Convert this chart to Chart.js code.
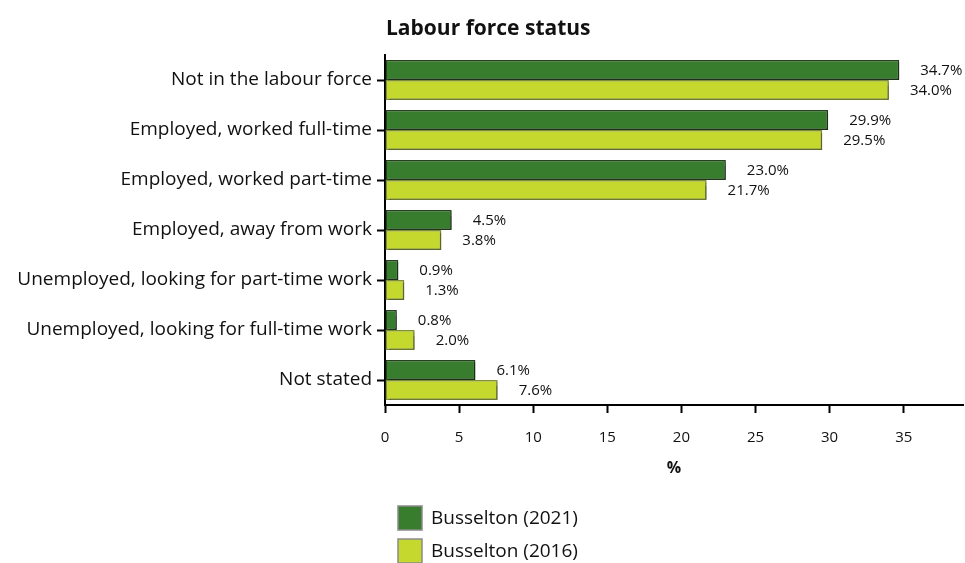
<!DOCTYPE html>
<html>
<head>
<meta charset="utf-8">
<script src="https://cdn.jsdelivr.net/npm/chart.js@4"></script>
<style>
  html,body{margin:0;padding:0;background:#fff;}
  #wrap{position:relative;width:965px;height:563px;}
</style>
</head>
<body>
<div id="wrap"><canvas id="c" width="965" height="563"></canvas></div>
<script>
/* ===== DATA ===== */
const categories=['Not in the labour force','Employed, worked full-time','Employed, worked part-time',
  'Employed, away from work','Unemployed, looking for part-time work','Unemployed, looking for full-time work','Not stated'];
const busselton2021=[34.7,29.9,23.0,4.5,0.9,0.8,6.1];
const busselton2016=[34.0,29.5,21.7,3.8,1.3,2.0,7.6];
const seriesLabels=['Busselton (2021)','Busselton (2016)'];
const xTicks=[0,5,10,15,20,25,30,35];
const chartTitle='Labour force status';
const xTitle='%';

const FONT='"Open Sans", sans-serif';
const COLORS={dark:'#387c2e',darkBorder:'#24421c',light:'#c5d82e',lightBorder:'#7f8f36'};

/* ===== PLUGINS ===== */
// bar shadow
const shadowPlugin={
  id:'shadow',
  beforeDatasetDraw(chart){
    const c=chart.ctx;
    c.shadowColor='rgba(0,0,0,0.3)';c.shadowOffsetX=1.5;c.shadowOffsetY=1.5;c.shadowBlur=1;
  },
  afterDatasetDraw(chart){
    const c=chart.ctx;
    c.shadowColor='transparent';c.shadowOffsetX=0;c.shadowOffsetY=0;c.shadowBlur=0;
  }
};

// value labels right of bars
const valueLabels={
  id:'valueLabels',
  afterDatasetsDraw(chart){
    const c=chart.ctx;
    c.save();
    c.font='15px '+FONT;c.fillStyle='#111';c.textAlign='left';c.textBaseline='middle';
    chart.data.datasets.forEach((ds,i)=>{
      chart.getDatasetMeta(i).data.forEach((bar,j)=>{
        c.fillText(ds.data[j].toFixed(1)+'%',bar.x+21,bar.y+1);
      });
    });
    c.restore();
  }
};

// title at chart-area left + vertical legend below
const extras={
  id:'extras',
  afterDraw(chart){
    const c=chart.ctx, a=chart.chartArea;
    c.save();
    c.font='bold 21px '+FONT;c.fillStyle='#111';c.textAlign='left';c.textBaseline='middle';
    c.fillText(chartTitle,a.left+1,29);

    c.font='19px '+FONT;
    const rows=[518,551];
    chart.data.datasets.forEach((ds,i)=>{
      const y=rows[i];
      c.fillStyle=ds.backgroundColor;
      c.fillRect(398,y-12,24,24);
      c.strokeStyle='#8a8a8a';c.lineWidth=1.5;
      c.strokeRect(398,y-12,24,24);
      c.fillStyle='#111';
      c.fillText(ds.label,431,y+1);
    });
    c.restore();
  }
};

/* ===== CHART ===== */
new Chart(document.getElementById('c'),{
  type:'bar',
  data:{
    labels:categories,
    datasets:[
      {label:seriesLabels[0],data:busselton2021,backgroundColor:COLORS.dark,borderColor:COLORS.darkBorder,
        borderWidth:1.5,borderSkipped:false,categoryPercentage:0.8,barPercentage:1.0},
      {label:seriesLabels[1],data:busselton2016,backgroundColor:COLORS.light,borderColor:COLORS.lightBorder,
        borderWidth:1.5,borderSkipped:false,categoryPercentage:0.8,barPercentage:1.0}
    ]
  },
  options:{
    indexAxis:'y',
    responsive:false,animation:false,
    layout:{padding:{top:55,right:2,bottom:0,left:0}},
    plugins:{legend:{display:false},tooltip:{enabled:false},title:{display:false}},
    scales:{
      x:{
        min:0,max:39,
        afterBuildTicks:s=>{s.ticks=xTicks.map(v=>({value:v}));},
        afterFit:s=>{s.height=158;},
        border:{color:'#000',width:2},
        grid:{drawOnChartArea:false,tickLength:8,tickWidth:2,tickColor:'#000'},
        ticks:{color:'#111',font:{family:FONT,size:15},padding:16},
        title:{display:true,text:xTitle,color:'#111',font:{family:FONT,size:16,weight:'bold'},padding:{bottom:85}}
      },
      y:{
        afterFit:s=>{s.width=385;},
        border:{color:'#000',width:2},
        grid:{drawOnChartArea:false,offset:false,tickLength:8,tickWidth:2,tickColor:'#000'},
        ticks:{color:'#111',font:{family:FONT,size:19},padding:5}
      }
    }
  },
  plugins:[shadowPlugin,valueLabels,extras]
});
</script>
</body>
</html>
